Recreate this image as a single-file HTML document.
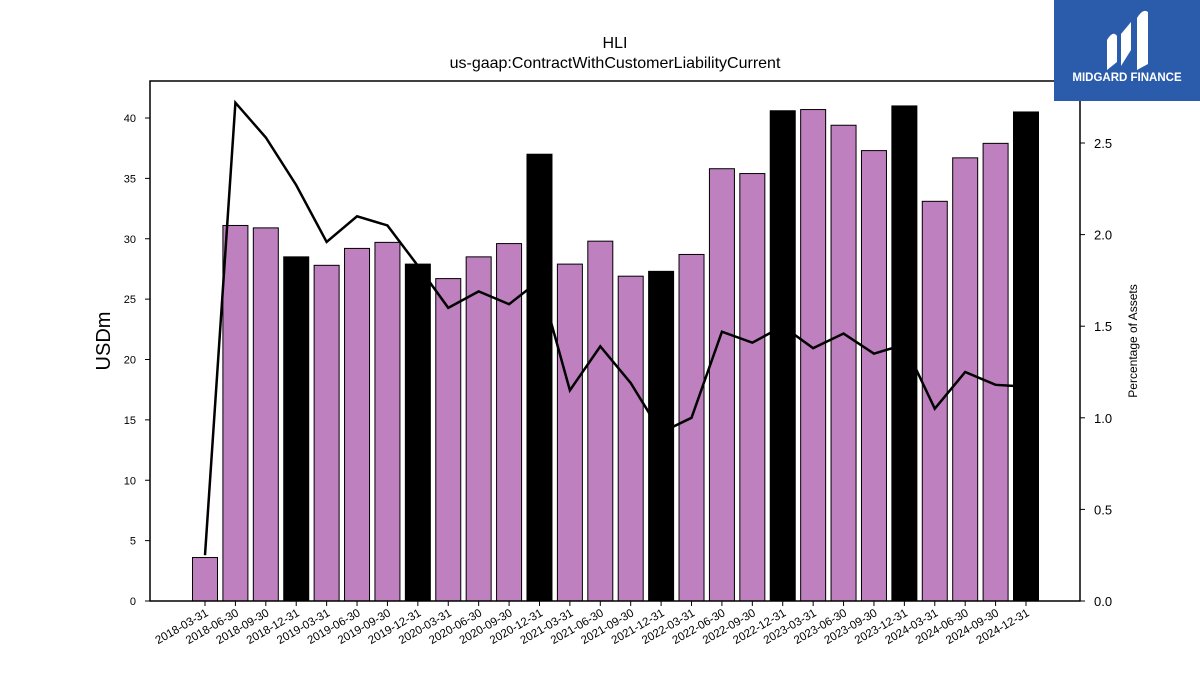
<!DOCTYPE html>
<html><head><meta charset="utf-8"><style>
body{margin:0;background:#fff;}
svg{display:block;font-family:"Liberation Sans","DejaVu Sans",sans-serif;}
</style></head><body>
<svg id="chart" width="1200" height="675" xmlns="http://www.w3.org/2000/svg">
<text x="615" y="48" text-anchor="middle" font-size="16">HLI</text>
<text x="615" y="68" text-anchor="middle" font-size="16">us-gaap:ContractWithCustomerLiabilityCurrent</text>
<g id="plot"></g>
<text transform="translate(110,341) rotate(-90)" text-anchor="middle" font-size="20">USDm</text>
<text transform="translate(1137,341) rotate(-90)" text-anchor="middle" font-size="12">Percentage of Assets</text>
<g>
<rect x="1054" y="0" width="146" height="101" fill="#2b5cab"/>
<path d="M1107 70 V40 Q1113 30 1117 36 V62 Z M1121 66 V34 L1131 22 V50 Z M1137 70 V18 Q1143 8 1148 12 V64 Z" fill="#fff"/>
<text x="1127" y="81" text-anchor="middle" font-size="11.5" font-weight="bold" fill="#fff">MIDGARD FINANCE</text>
</g>
</svg>
<script>
const categories=["2018-03-31","2018-06-30","2018-09-30","2018-12-31","2019-03-31","2019-06-30","2019-09-30","2019-12-31","2020-03-31","2020-06-30","2020-09-30","2020-12-31","2021-03-31","2021-06-30","2021-09-30","2021-12-31","2022-03-31","2022-06-30","2022-09-30","2022-12-31","2023-03-31","2023-06-30","2023-09-30","2023-12-31","2024-03-31","2024-06-30","2024-09-30","2024-12-31"];
const values=[3.6,31.1,30.9,28.5,27.8,29.2,29.7,27.9,26.7,28.5,29.6,37.0,27.9,29.8,26.9,27.3,28.7,35.8,35.4,40.6,40.7,39.4,37.3,41.0,33.1,36.7,37.9,40.5];
const pct=[0.25,2.72,2.53,2.27,1.96,2.10,2.05,1.83,1.60,1.69,1.62,1.75,1.15,1.39,1.19,0.92,1.00,1.47,1.41,1.50,1.38,1.46,1.35,1.40,1.05,1.25,1.18,1.17];
const leftTicks=[0,5,10,15,20,25,30,35,40];
const rightTicks=[0.0,0.5,1.0,1.5,2.0,2.5];
const NS="http://www.w3.org/2000/svg";
const X0=150,X1=1080,Y0=601,Y1=81;
const x=i=>205+i*(1026-205)/(categories.length-1);
const yL=v=>Y0-v*(Y0-118)/40;
const yR=v=>Y0-v*(Y0-143)/2.5;
const g=document.getElementById('plot');
function mk(t,a){const e=document.createElementNS(NS,t);for(const k in a)e.setAttribute(k,a[k]);g.appendChild(e);return e;}
const bw=25;
const isQ4=c=>c.endsWith("12-31");
categories.forEach((c,i)=>{if(isQ4(c))return;
const r=mk('rect',{x:x(i)-bw/2,y:yL(values[i]),width:bw,height:Y0-yL(values[i]),fill:'#bf80bf',stroke:'#000','stroke-width':1});

});
const pl=mk('polyline',{points:pct.map((v,i)=>x(i)+','+yR(v)).join(' '),fill:'none',stroke:'#000','stroke-width':2.5,'stroke-linejoin':'miter'});


categories.forEach((c,i)=>{if(!isQ4(c))return;
const r=mk('rect',{x:x(i)-bw/2,y:yL(values[i]),width:bw,height:Y0-yL(values[i]),fill:'#000',stroke:'#000','stroke-width':1});

});
const fr=mk('rect',{x:X0,y:Y1,width:X1-X0,height:Y0-Y1,fill:'none',stroke:'#000','stroke-width':1.5});


leftTicks.forEach(v=>{const y=yL(v);
mk('line',{x1:X0-5,x2:X0,y1:y,y2:y,stroke:'#000'});
const t=mk('text',{x:X0-14,y:y+4,'text-anchor':'end','font-size':11});t.textContent=v;

});
rightTicks.forEach(v=>{const y=yR(v);
mk('line',{x1:X1,x2:X1+5,y1:y,y2:y,stroke:'#000'});
const t=mk('text',{x:X1+14,y:y+5,'font-size':13});t.textContent=v.toFixed(1);

});
categories.forEach((c,i)=>{const xi=x(i);
mk('line',{x1:xi,x2:xi,y1:Y0,y2:Y0+5,stroke:'#000'});
const t=mk('text',{transform:`translate(${xi+4},${Y0+14}) rotate(-30)`,'text-anchor':'end','font-size':11.5});t.textContent=c;

});
</script>
</body></html>
